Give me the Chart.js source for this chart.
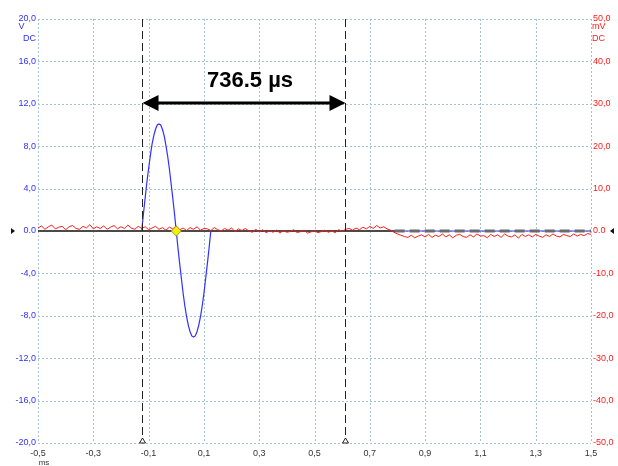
<!DOCTYPE html>
<html>
<head>
<meta charset="utf-8">
<script src="https://cdn.jsdelivr.net/npm/chart.js@4.4.1/dist/chart.umd.min.js"></script>
<style>
  html, body { margin: 0; padding: 0; background: #fff; }
  canvas { display: block; }
</style>
</head>
<body>
<canvas id="scope" width="618" height="466"></canvas>
<script>
// axis ticks
const timeTicks = [-0.5, -0.3, -0.1, 0.1, 0.3, 0.5, 0.7, 0.9, 1.1, 1.3, 1.5];
const voltTicks = [-20, -16, -12, -8, -4, 0, 4, 8, 12, 16, 20];
const milliVoltTicks = [-50, -40, -30, -20, -10, 0, 10, 20, 30, 40, 50];

// channel A (V): one burst cycle between the cursors, flat elsewhere
const burstTimes = [
  -0.125, -0.11875, -0.1125, -0.10625, -0.1, -0.09375, -0.0875, -0.08125, -0.075, -0.06875,
  -0.0625, -0.05625, -0.05, -0.04375, -0.0375, -0.03125, -0.025, -0.01875, -0.0125, -0.00625,
  0, 0.00625, 0.0125, 0.01875, 0.025, 0.03125, 0.0375, 0.04375, 0.05, 0.05625,
  0.0625, 0.06875, 0.075, 0.08125, 0.0875, 0.09375, 0.1, 0.10625, 0.1125, 0.11875, 0.125,
];
const burstVolts = [
  0, 1.6, 3.1, 4.6, 5.9, 7.1, 8.2, 9.0, 9.6, 10.0,
  10.1, 10.0, 9.6, 9.0, 8.1, 7.1, 5.9, 4.5, 3.1, 1.6,
  0, -1.6, -3.1, -4.5, -5.9, -7.1, -8.1, -8.9, -9.5, -9.9,
  -10.0, -9.9, -9.5, -8.9, -8.1, -7.1, -5.9, -4.5, -3.1, -1.6, 0,
];

// channel B (mV), sampled every 12.5 us from -0.5 ms
const noiseStartMs = -0.5;
const noiseStepMs = 0.0125;
const noiseMilliVolts = [
  0.7, 1.2, 0.4, 1.0, 1.4, 0.5, 0.9, 1.1, 0.3, 1.0,
  1.3, 0.6, 0.4, 1.1, 0.7, 1.5, 0.5, 1.0, 0.6, 1.2,
  0.4, 0.9, 1.3, 0.5, 1.0, 0.6, 1.4, 0.7, 0.4, 1.1,
  0.6, 1.0, 0.3, 0.7, 1.1, 0.4, 0.8, 0.2, 0.9, 0.5,
  1.2, 0.3, 0.7, 0.1, 0.8, 0.4, 1.0, 0.2, 0.6, 0.5,
  0.1, 0.8, 0.3, 0.0, 0.6, 0.2, 0.7, -0.1, 0.5, 0.1,
  0.6, 0.0, -0.3, 0.4, -0.2, 0.3, -0.4, 0.1, -0.3, 0.2,
  -0.5, 0.1, -0.3, -0.1, 0.3, -0.4, -0.1, 0.2, -0.5, -0.2,
  0.1, -0.4, -0.1, 0.2, -0.3, 0.0, -0.4, 0.3, -0.1, 0.4,
  0.6, 0.2, 0.7, 0.3, 0.9, 0.5, 1.1, 0.6, 1.3, 0.7,
  1.0, 0.5, 0.2, -0.3, -0.7, -1.0, -1.3, -1.5, -1.0, -1.6,
  -1.2, -0.9, -1.4, -0.8, -1.5, -1.0, -1.3, -0.7, -1.4, -0.9,
  -1.6, -1.0, -0.8, -1.3, -1.5, -0.9, -1.4, -0.7, -1.2, -1.1,
  -1.6, -0.8, -1.3, -0.9, -1.5, -0.7, -1.2, -1.4, -0.9, -1.7,
  -0.8, -1.3, -0.9, -1.4, -0.8, -1.2, -1.5, -0.9, -1.3, -0.7,
  -1.2, -1.4, -0.8, -1.1, -1.3, -0.7, -1.2, -0.8, -1.1, -0.6,
  -0.8,
];

// reference line, dashed after the marker point
const refTimes = [-0.5, 0.79, 1.5];
const refValues = [0, 0, 0];

const cursorA = -0.125;
const cursorB = 0.6115;
const deltaText = "736.5 \u00b5s";
const triggerPoint = { x: 0, y: 0 };

const colors = {
  blue: "#3030ff",
  red: "#ff1a1a",
  grid: "#a6c2d6",
  text: "#333333",
  yellow: "#f4f000",
};

const labelFont = "'Liberation Sans', Arial, sans-serif";

function commaLabel(value) {
  return value === 0 ? "0.0" : value.toFixed(1).replace(".", ",");
}

function setTicks(list) {
  return (scale) => {
    scale.ticks = list.map((value) => ({ value }));
  };
}

const blueData = [{ x: -0.5, y: 0 }]
  .concat(burstTimes.map((t, i) => ({ x: t, y: burstVolts[i] })))
  .concat([{ x: 1.5, y: 0 }]);

const redData = noiseMilliVolts.map((v, i) => ({ x: noiseStartMs + i * noiseStepMs, y: v }));

// dotted scope graticule, taken from the scale ticks
const graticule = {
  id: "graticule",
  beforeDatasetsDraw(chart) {
    const { ctx, chartArea, scales } = chart;
    ctx.save();
    ctx.strokeStyle = colors.grid;
    ctx.lineWidth = 1;
    ctx.setLineDash([2, 2]);
    scales.x.ticks.forEach((tick) => {
      const x = Math.round(scales.x.getPixelForValue(tick.value)) + 0.5;
      ctx.beginPath();
      ctx.moveTo(x, chartArea.top);
      ctx.lineTo(x, chartArea.bottom);
      ctx.stroke();
    });
    scales.y.ticks.forEach((tick) => {
      const y = Math.round(scales.y.getPixelForValue(tick.value)) + 0.5;
      ctx.beginPath();
      ctx.moveTo(chartArea.left, y);
      ctx.lineTo(chartArea.right, y);
      ctx.stroke();
    });
    ctx.restore();
  },
};

const overlay = {
  id: "overlay",
  afterDatasetsDraw(chart) {
    const { ctx, chartArea, scales } = chart;
    const xa = scales.x;
    const x1 = Math.round(xa.getPixelForValue(cursorA)) + 0.5;
    const x2 = Math.round(xa.getPixelForValue(cursorB)) + 0.5;
    ctx.save();

    // cursors
    ctx.strokeStyle = "#222";
    ctx.lineWidth = 1;
    ctx.setLineDash([8, 4]);
    [x1, x2].forEach((x) => {
      ctx.beginPath();
      ctx.moveTo(x, chartArea.top);
      ctx.lineTo(x, chartArea.bottom);
      ctx.stroke();
    });
    ctx.setLineDash([]);
    [x1, x2].forEach((x) => {
      ctx.beginPath();
      ctx.moveTo(x, chartArea.bottom - 5);
      ctx.lineTo(x - 3, chartArea.bottom);
      ctx.lineTo(x + 3, chartArea.bottom);
      ctx.closePath();
      ctx.fillStyle = "#fff";
      ctx.fill();
      ctx.stroke();
    });

    // delta arrow
    const ay = 103;
    ctx.strokeStyle = "#000";
    ctx.fillStyle = "#000";
    ctx.lineWidth = 3;
    ctx.beginPath();
    ctx.moveTo(x1 + 10, ay);
    ctx.lineTo(x2 - 10, ay);
    ctx.stroke();
    ctx.beginPath();
    ctx.moveTo(x1, ay);
    ctx.lineTo(x1 + 16, ay - 8);
    ctx.lineTo(x1 + 16, ay + 8);
    ctx.closePath();
    ctx.fill();
    ctx.beginPath();
    ctx.moveTo(x2, ay);
    ctx.lineTo(x2 - 16, ay - 8);
    ctx.lineTo(x2 - 16, ay + 8);
    ctx.closePath();
    ctx.fill();

    ctx.font = "bold 22px " + labelFont;
    ctx.textAlign = "center";
    ctx.textBaseline = "alphabetic";
    ctx.fillText(deltaText, (x1 + x2) / 2 + 6, 87);

    // unit labels
    ctx.font = "9px " + labelFont;
    ctx.textBaseline = "middle";
    ctx.fillStyle = colors.blue;
    ctx.textAlign = "center";
    ctx.fillText("V", 21.5, 27);
    ctx.textAlign = "right";
    ctx.fillText("DC", 36, 39);
    ctx.fillStyle = colors.red;
    ctx.textAlign = "left";
    ctx.fillText("mV", 592, 27);
    ctx.fillText("DC", 592, 39);
    ctx.fillStyle = colors.text;
    ctx.font = "8px " + labelFont;
    ctx.textAlign = "center";
    ctx.fillText("ms", 44, 462.5);

    // channel zero markers
    const zy = scales.y.getPixelForValue(0);
    ctx.fillStyle = "#111";
    ctx.beginPath();
    ctx.moveTo(11, zy - 3);
    ctx.lineTo(15, zy);
    ctx.lineTo(11, zy + 3);
    ctx.closePath();
    ctx.fill();
    ctx.beginPath();
    ctx.moveTo(614, zy - 3);
    ctx.lineTo(610, zy);
    ctx.lineTo(614, zy + 3);
    ctx.closePath();
    ctx.fill();
    ctx.restore();
  },
};

new Chart(document.getElementById("scope"), {
  type: "line",
  data: {
    datasets: [
      {
        label: "trigger",
        data: [triggerPoint],
        yAxisID: "y",
        showLine: false,
        pointStyle: "rectRot",
        pointRadius: 5,
        pointBackgroundColor: colors.yellow,
        pointBorderColor: "#9a9a40",
        pointBorderWidth: 1,
        order: 0,
      },
      {
        label: "Channel B",
        data: redData,
        yAxisID: "y2",
        borderColor: colors.red,
        borderWidth: 1,
        pointRadius: 0,
        tension: 0,
        order: 1,
      },
      {
        label: "Reference",
        data: refTimes.map((t, i) => ({ x: t, y: refValues[i] })),
        yAxisID: "y",
        borderColor: "#4a4a4a",
        borderWidth: 2,
        pointRadius: 0,
        segment: {
          borderDash: (ctx) => (ctx.p0.parsed.x >= refTimes[1] ? [10, 5] : undefined),
          borderWidth: (ctx) => (ctx.p0.parsed.x >= refTimes[1] ? 3 : 2),
          borderColor: (ctx) => (ctx.p0.parsed.x >= refTimes[1] ? "#6a6a6a" : "#4a4a4a"),
        },
        order: 2,
      },
      {
        label: "Channel A",
        data: blueData,
        yAxisID: "y",
        borderColor: colors.blue,
        borderWidth: 1.2,
        pointRadius: 0,
        tension: 0,
        order: 3,
      },
    ],
  },
  options: {
    responsive: false,
    animation: false,
    events: [],
    layout: { padding: { top: 19, left: 0, right: 0, bottom: 0 } },
    plugins: {
      legend: { display: false },
      tooltip: { enabled: false },
    },
    scales: {
      x: {
        type: "linear",
        min: -0.5,
        max: 1.5,
        afterBuildTicks: setTicks(timeTicks),
        afterFit: (s) => { s.height = 23; },
        border: { display: false },
        grid: { display: false, drawTicks: false },
        ticks: {
          padding: 5,
          color: colors.text,
          font: { family: labelFont, size: 9 },
          maxRotation: 0,
          autoSkip: false,
          callback: commaLabel,
        },
      },
      y: {
        position: "left",
        min: -20,
        max: 20,
        afterBuildTicks: setTicks(voltTicks),
        afterFit: (s) => { s.width = 38; },
        border: { display: false },
        grid: { display: false, drawTicks: false },
        ticks: {
          padding: 2,
          color: colors.blue,
          font: { family: labelFont, size: 9 },
          autoSkip: false,
          callback: commaLabel,
        },
      },
      y2: {
        position: "right",
        min: -50,
        max: 50,
        afterBuildTicks: setTicks(milliVoltTicks),
        afterFit: (s) => { s.width = 27; },
        border: { display: false },
        grid: { display: false, drawTicks: false },
        ticks: {
          padding: 2,
          color: colors.red,
          font: { family: labelFont, size: 9 },
          autoSkip: false,
          callback: commaLabel,
        },
      },
    },
  },
  plugins: [graticule, overlay],
});
</script>
</body>
</html>
